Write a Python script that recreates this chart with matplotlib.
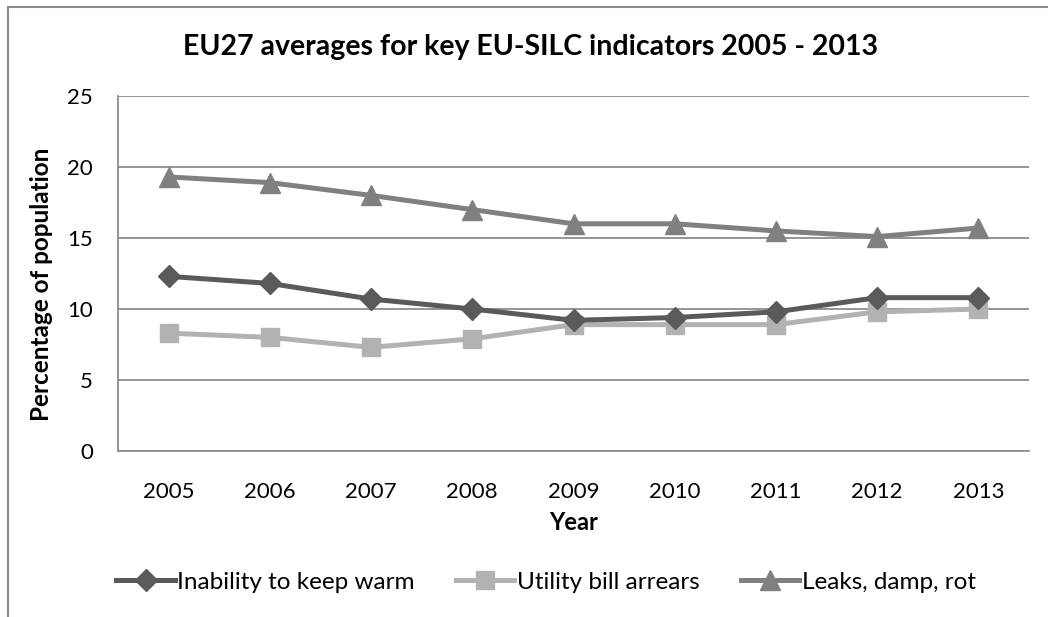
import matplotlib
matplotlib.use("Agg")
import matplotlib.pyplot as plt
from matplotlib.patches import Rectangle

years = ["2005", "2006", "2007", "2008", "2009", "2010", "2011", "2012", "2013"]
inability_warm = [12.3, 11.8, 10.7, 10.0, 9.2, 9.4, 9.8, 10.8, 10.8]
utility_arrears = [8.3, 8.0, 7.3, 7.9, 8.9, 8.9, 8.9, 9.8, 10.0]
leaks_damp_rot = [19.3, 18.9, 18.0, 17.0, 16.0, 16.0, 15.5, 15.1, 15.7]
series_names = ["Inability to keep warm", "Utility bill arrears", "Leaks, damp, rot"]

plt.rcParams['font.family'] = ['Lato', 'DejaVu Sans']

W, H = 1048, 617
fig = plt.figure(figsize=(W / 100, H / 100), dpi=100)
fig.patch.set_facecolor("white")

# outer chart border (extends beyond right/bottom edge)
fig.patches.append(Rectangle((8 / W, -0.1), 1.2, (H - 7) / H + 0.1, transform=fig.transFigure,
                             fill=False, edgecolor="#8c8c8c", linewidth=1.5))

left, right, top, bottom = 118, 1029, 96, 451
ax = fig.add_axes([left / W, 1 - bottom / H, (right - left) / W, (bottom - top) / H])

x = list(range(len(years)))
ax.plot(x, inability_warm, color="#5a5a5a", lw=3.6, marker="D", ms=11, label=series_names[0], zorder=4)
ax.plot(x, utility_arrears, color="#b2b2b2", lw=3.6, marker="s", ms=13, label=series_names[1], zorder=3)
ax.plot(x, leaks_damp_rot, color="#808080", lw=3.6, marker="^", ms=14, label=series_names[2], zorder=3)

ax.set_xlim(-0.5, len(years) - 0.5)
ax.set_ylim(0, 25)
ax.set_yticks([0, 5, 10, 15, 20, 25])
ax.set_xticks(x)
ax.set_xticklabels(years)
ax.grid(axis="y", color="#8c8c8c", lw=1.3)
ax.set_axisbelow(True)
for s in ["top", "right"]:
    ax.spines[s].set_visible(False)
for s in ["left", "bottom"]:
    ax.spines[s].set_color("#8c8c8c")
    ax.spines[s].set_linewidth(1.3)
ax.tick_params(length=0, labelsize=16)
ax.tick_params(axis="y", pad=18)
ax.tick_params(axis="x", pad=22)

ax.set_ylabel("Percentage of population", fontsize=17.5, fontweight="bold")
ax.yaxis.set_label_coords((42 - left) / (right - left), (bottom - 284) / (bottom - top))
ax.set_xlabel("Year", fontsize=17, fontweight="bold")
ax.xaxis.set_label_coords(0.5, (bottom - 523) / (bottom - top))
ax.xaxis.label.set_va("center")
ax.yaxis.label.set_va("center")

fig.text(531 / W, 1 - 47 / H, "EU27 averages for key EU-SILC indicators 2005 - 2013",
         ha="center", va="center", fontsize=20.5, fontweight="bold")

leg = fig.legend(loc="center", bbox_to_anchor=(546 / W, 1 - 582 / H), ncol=3, frameon=False,
                 fontsize=17.5, handlelength=2.4, columnspacing=1.7, handletextpad=0.1)

fig.savefig("out.png", dpi=100)
